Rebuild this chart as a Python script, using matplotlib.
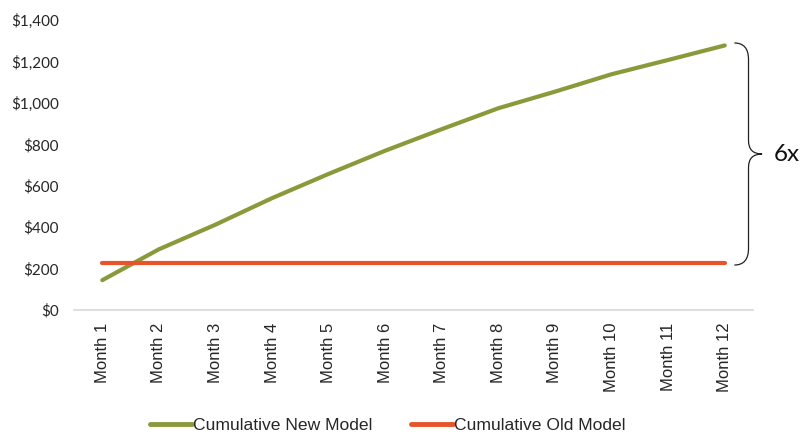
import numpy as np
import matplotlib
matplotlib.use("Agg")
import matplotlib.pyplot as plt
from matplotlib.path import Path
from matplotlib.patches import PathPatch
from matplotlib.ticker import FuncFormatter

# dados
months = ["Month 1", "Month 2", "Month 3", "Month 4", "Month 5", "Month 6",
          "Month 7", "Month 8", "Month 9", "Month 10", "Month 11", "Month 12"]
cum_new = [144, 293, 412, 540, 657, 769, 873, 974, 1054, 1138, 1207, 1277]
cum_old = [225, 225, 225, 225, 225, 225, 225, 225, 225, 225, 225, 225]
y_ticks = [0, 200, 400, 600, 800, 1000, 1200, 1400]
multiple_label = "6x"

green = "#8A9A3B"
orange = "#E8542A"
txt = "#262626"

fig = plt.figure(figsize=(8, 4.34), dpi=100)
ax = fig.add_axes([0.0925, 0.2857, 0.8488, 0.6683])

x = np.arange(len(months))
ax.plot(x, cum_new, color=green, lw=3, solid_capstyle="round", label="Cumulative New Model")
ax.plot(x, cum_old, color=orange, lw=3, solid_capstyle="round", label="Cumulative Old Model")

ax.set_xlim(-0.5, len(months) - 0.5)
ax.set_ylim(0, 1400)
ax.set_yticks(y_ticks)
ax.yaxis.set_major_formatter(FuncFormatter(lambda v, p: f"${v:,.0f}"))
ax.set_xticks(x)
ax.set_xticklabels(months, rotation=90, fontfamily="Liberation Sans", fontsize=12, color=txt)
for lab in ax.get_yticklabels():
    lab.set_fontfamily("Lato")
    lab.set_fontsize(11)
    lab.set_color(txt)
ax.tick_params(axis="y", length=0, pad=11)
ax.tick_params(axis="x", length=0, pad=9)

for s in ["top", "right", "left"]:
    ax.spines[s].set_visible(False)
ax.spines["bottom"].set_color("#D9D9D9")
ax.spines["bottom"].set_linewidth(1.2)

# chave mostrando a diferenca entre os modelos
top = cum_new[-1] + 12
bot = cum_old[-1] - 8
mid = (top + bot) / 2
xs = len(months) - 1 + 0.17
xv = xs + 0.25
xt = xv + 0.24
h = 80
verts = [(xs, top), (xv, top), (xv, top - h),
         (xv, mid + h * 0.8),
         (xv, mid), (xt, mid),
         (xv, mid), (xv, mid - h * 0.8),
         (xv, bot + h),
         (xv, bot), (xs, bot)]
codes = [Path.MOVETO, Path.CURVE3, Path.CURVE3,
         Path.LINETO,
         Path.CURVE3, Path.CURVE3,
         Path.CURVE3, Path.CURVE3,
         Path.LINETO,
         Path.CURVE3, Path.CURVE3]
brace = PathPatch(Path(verts, codes), fill=False, edgecolor="#222222", lw=0.9, clip_on=False)
ax.add_patch(brace)
ax.text(xt + 0.2, mid, multiple_label, fontfamily="Lato", fontsize=17.5, color="#111111",
        ha="left", va="center", clip_on=False)

leg = fig.legend(loc="center", bbox_to_anchor=(0.485, 1 - 425 / 434), ncol=2, frameon=False,
                 prop={"family": "Liberation Sans", "size": 12.6}, handlelength=2.4,
                 handletextpad=0.05, columnspacing=2.2)
for t in leg.get_texts():
    t.set_color(txt)
for l in leg.get_lines():
    l.set_linewidth(3.5)

fig.savefig("out.png", dpi=100)
